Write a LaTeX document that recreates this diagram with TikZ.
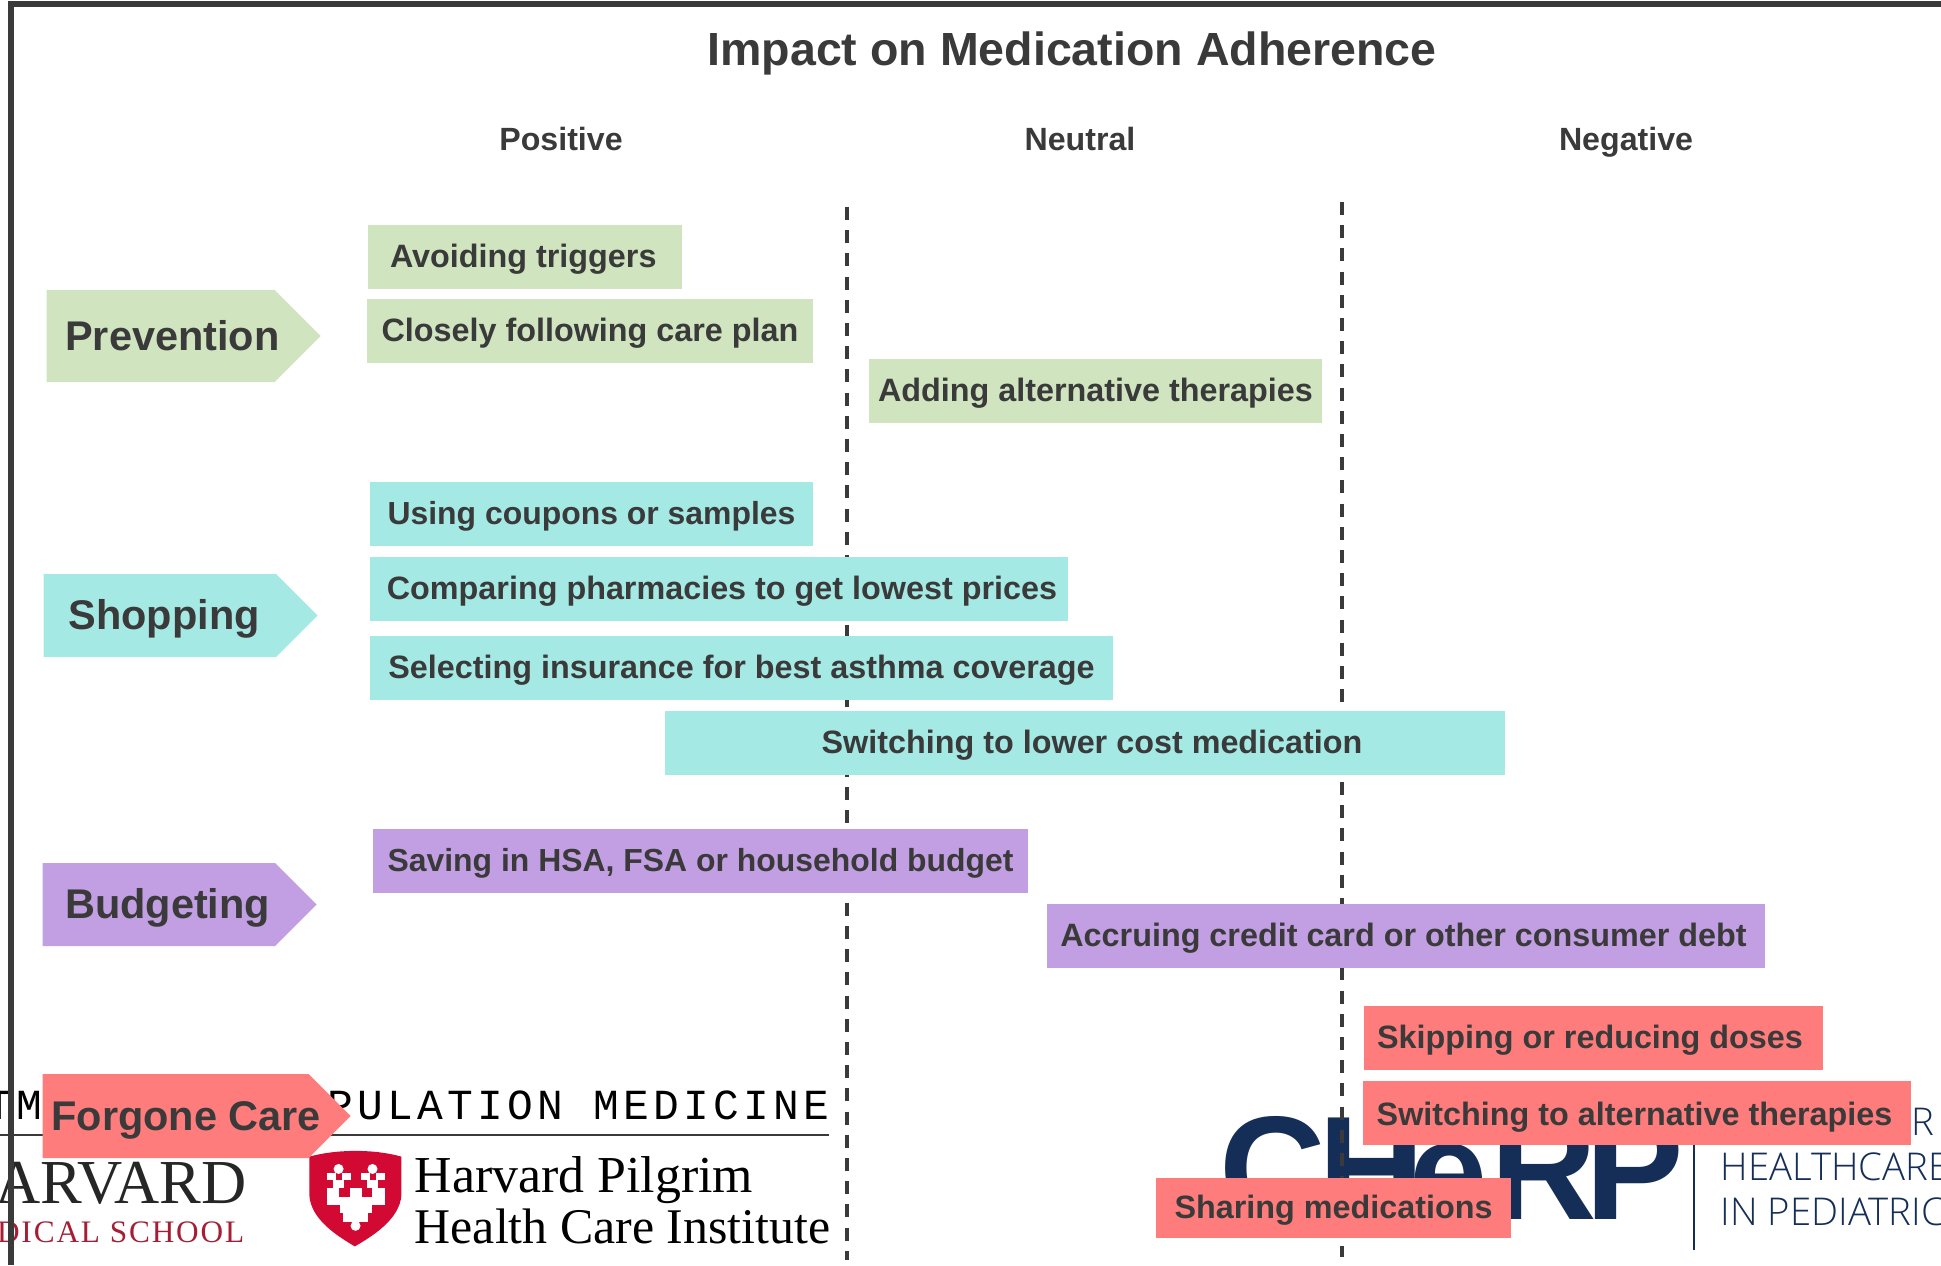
\documentclass[tikz,border=0pt]{standalone}
\usepackage{fontspec}
\setmainfont{Liberation Sans}
\newfontfamily\monofont[LetterSpace=10]{Liberation Mono}
\newfontfamily\serifont{Liberation Serif}
\newfontfamily\spacedserif[LetterSpace=6]{Liberation Serif}
\newfontfamily\thinfont{Open Sans Light}
\usepackage{xcolor}
\usetikzlibrary{positioning, shapes.symbols}

\definecolor{inkgray}{HTML}{3A3A3A}
\definecolor{prevgreen}{HTML}{CFE4BF}
\definecolor{shopcyan}{HTML}{A5E9E5}
\definecolor{budgetpurple}{HTML}{C29FE3}
\definecolor{forgonered}{HTML}{FF7C7C}
\definecolor{crimson}{HTML}{D20A33}
\definecolor{harvardred}{HTML}{A41E34}
\definecolor{navy}{HTML}{152E57}

\begin{document}
\begin{tikzpicture}[
        labelbox/.style={inner sep=0pt,minimum height=0.64cm,text height=8pt,text depth=1.9pt,text=inkgray,font=\fontsize{9.2}{11}\selectfont\bfseries},
        smallbox/.style={labelbox,font=\fontsize{9.08}{11}\selectfont\bfseries},
        catarrow/.style={shape=signal,signal to=east,signal pointer angle=90,inner sep=0pt,anchor=west,text height=8pt,text depth=0pt,text=inkgray,font=\fontsize{11.8}{14}\selectfont\bfseries},
        colhead/.style={text height=9pt,text depth=1.9pt,text=inkgray,font=\fontsize{9.15}{11}\selectfont\bfseries},
        divider/.style={inkgray,line width=1pt,dash pattern=on 3.7pt off 2.9pt},
        cherpfont/.style={inner sep=0pt,anchor=base west,text=navy,font=\fontsize{42}{46}\selectfont\bfseries},
        pedifont/.style={inner sep=0pt,anchor=base west,text=navy,font=\fontsize{10.9}{12}\thinfont}]
        \useasboundingbox (0,0) rectangle (19.41,-12.65);

        % logos at the bottom
        \node[inner sep=0pt,anchor=base east,font=\fontsize{12.2}{14}\monofont] (tm) at (0.43,-11.19) {TM};
        \node[inner sep=0pt,anchor=base east,font=\fontsize{12.2}{14}\monofont] (popmed) at (8.30,-11.19) {PULATION MEDICINE};
        \coordinate (ruleend) at (8.29,-11.35);
        \coordinate (rulestart) at (0,-11.35);
        \draw[inkgray,line width=0.4pt] (rulestart) -- (ruleend);
        \node[inner sep=0pt,anchor=base east,text=black!85,font=\fontsize{17.8}{20}\serifont] (harvard) at (2.47,-12.03) {ARVARD};
        \node[inner sep=0pt,anchor=base east,text=harvardred,font=\fontsize{8.9}{10}\spacedserif] (medschool) at (2.45,-12.42) {DICAL SCHOOL};
        \begin{scope}[shift={(3,-11.45)},x=0.00333cm,y=-0.00333cm]
            \fill[crimson] (28,35) .. controls (110,12) and (225,12) .. (305,35)
                -- (305,150) .. controls (300,225) and (215,275) .. (165,305)
                .. controls (115,275) and (32,225) .. (28,150) -- cycle;
            \foreach \xa/\ya/\xb/\yb in {80/85/108/105, 125/85/152/105, 182/85/210/105, 227/85/255/105,
                    100/105/132/128, 202/105/235/128, 80/128/118/180, 217/128/255/180,
                    150/128/185/232, 118/155/217/180, 120/180/150/205, 185/180/215/205, 130/205/205/232}
                \fill[white] (\xa,\ya) rectangle (\xb,\yb);
            \fill[white] (116,72) circle (0.05cm) (218,72) circle (0.05cm) (167,243) circle (0.05cm);
        \end{scope}
        \node[inner sep=0pt,anchor=base west,font=\fontsize{14.75}{16}\serifont] (pilgrim) at (4.14,-11.92) {Harvard Pilgrim};
        \node[inner sep=0pt,anchor=base west,font=\fontsize{14.2}{16}\serifont] (hcinst) at (4.14,-12.43) {Health Care Institute};

        \node[cherpfont] (cherp) at (12.19,-12.19) {C\kern-2.3pt H};
        \node[cherpfont,font=\fontsize{40}{44}\selectfont\bfseries] (cherpe) at (14.09,-12.19) {e};
        \node[cherpfont] (cherpr) at (14.90,-12.19) {R\kern-3.4pt P};
        \coordinate (sepa) at (16.94,-11.45);
        \coordinate (sepb) at (16.94,-12.50);
        \draw[navy,line width=0.77pt] (sepa) -- (sepb);
        \node[pedifont] (forr) at (19.11,-11.35) {R};
        \node[pedifont] (hcare) at (17.20,-11.80) {HEALTHCARE};
        \node[pedifont] (pedi) at (17.20,-12.25) {IN PEDIATRIC};

        % frame and column dividers
        \coordinate (framea) at (0.11,-12.65);
        \coordinate (frameb) at (0.11,-0.04);
        \coordinate (framec) at (19.41,-0.04);
        \draw[inkgray,line width=1.6pt] (framea) -- (frameb) -- (framec);
        \coordinate (diva) at (8.47,-2.07);
        \coordinate (divb) at (8.47,-12.60);
        \coordinate (divc) at (13.42,-2.02);
        \coordinate (divd) at (13.42,-12.57);
        \draw[divider] (diva) -- (divb);
        \draw[divider] (divc) -- (divd);

        \node[text=inkgray,font=\fontsize{13.24}{16}\selectfont\bfseries] (title) at (10.72,-0.53) {Impact on Medication Adherence};
        \node[colhead] (pos) at (5.61,-1.38) {Positive};
        \node[colhead] (neu) at (10.80,-1.38) {Neutral};
        \node[colhead] (neg) at (16.26,-1.38) {Negative};

        % categories
        \node[catarrow,fill=prevgreen,minimum width=2.74cm,minimum height=0.92cm] (prevention) at (0.46,-3.36) {\makebox[0pt]{\hspace*{6.7pt}Prevention}};
        \node[catarrow,fill=shopcyan,minimum width=2.74cm,minimum height=0.83cm] (shopping) at (0.43,-6.155) {\makebox[0pt]{\hspace*{2.4pt}Shopping}};
        \node[catarrow,fill=budgetpurple,minimum width=2.74cm,minimum height=0.83cm] (budgeting) at (0.42,-9.045) {\makebox[0pt]{\hspace*{4.9pt}Budgeting}};
        \node[catarrow,fill=forgonered,minimum width=3.08cm,minimum height=0.84cm] (forgone) at (0.42,-11.16) {\makebox[0pt]{\hspace*{6pt}Forgone Care}};

        % coping strategies
        \node[labelbox,fill=prevgreen,minimum width=3.14cm] (avoid) at (5.25,-2.57) {Avoiding triggers\hspace*{1pt}};
        \node[labelbox,fill=prevgreen,minimum width=4.46cm] (careplan) at (5.90,-3.31) {Closely following care plan};
        \node[labelbox,fill=prevgreen,minimum width=4.53cm] (altadd) at (10.955,-3.91) {Adding alternative therapies};
        \node[smallbox,fill=shopcyan,minimum width=4.43cm] (coupons) at (5.915,-5.135) {Using coupons or samples};
        \node[labelbox,fill=shopcyan,minimum width=6.98cm] (pharm) at (7.19,-5.89) {\hspace*{1.7pt}Comparing pharmacies to get lowest prices};
        \node[labelbox,fill=shopcyan,minimum width=7.43cm] (insur) at (7.415,-6.68) {Selecting insurance for best asthma coverage};
        \node[labelbox,fill=shopcyan,minimum width=8.40cm] (lowcost) at (10.85,-7.43) {\hspace*{4pt}Switching to lower cost medication};
        \node[smallbox,fill=budgetpurple,minimum width=6.55cm] (saving) at (7.005,-8.61) {Saving in HSA, FSA or household budget};
        \node[labelbox,fill=budgetpurple,minimum width=7.18cm] (debt) at (14.06,-9.355) {Accruing credit card or other consumer debt\hspace*{1.4pt}};
        \node[labelbox,fill=forgonered,minimum width=4.59cm] (skip) at (15.935,-10.38) {Skipping or reducing doses\hspace*{2pt}};
        \node[labelbox,fill=forgonered,minimum width=5.48cm,text height=9.2pt] (altswitch) at (16.37,-11.13) {Switching to alternative therapies\hspace*{1.4pt}};
        \node[labelbox,fill=forgonered,minimum width=3.55cm,minimum height=0.60cm] (share) at (13.335,-12.08) {Sharing medications};
    \end{tikzpicture}
\end{document}
